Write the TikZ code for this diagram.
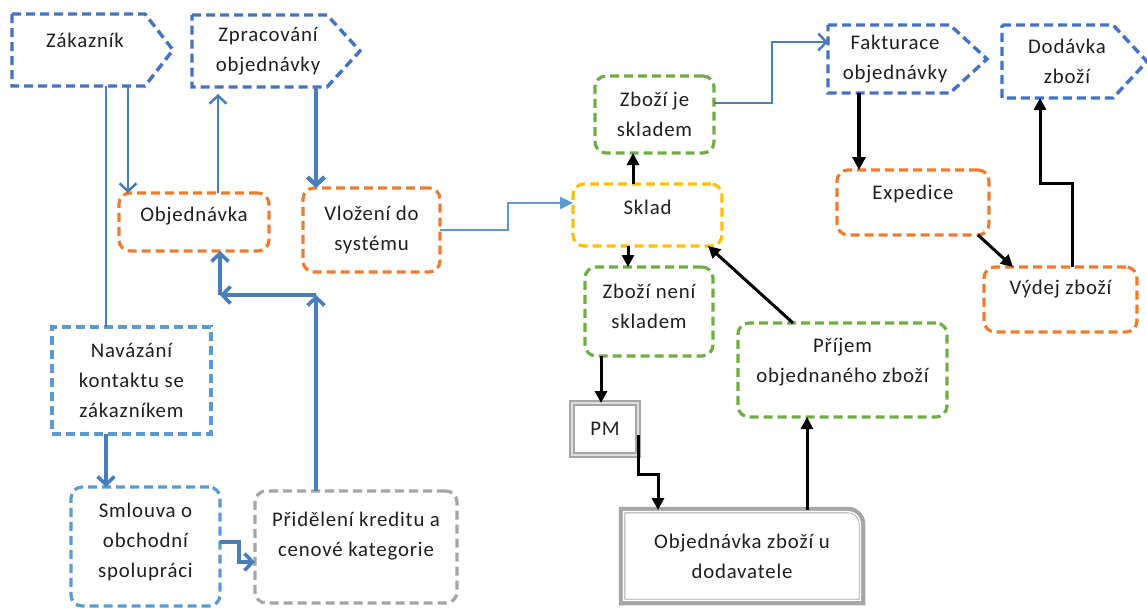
\documentclass[tikz,border=0pt]{standalone}
\usepackage{fontspec}
\setmainfont{Carlito}[LetterSpace=4]
\usetikzlibrary{arrows.meta}
\definecolor{hpblue}{HTML}{4472C4}
\definecolor{ltblue}{HTML}{5B9BD5}
\definecolor{conblue}{HTML}{4A7EBB}
\definecolor{orng}{HTML}{ED7D31}
\definecolor{grn}{HTML}{70AD47}
\definecolor{gold}{HTML}{FFC000}
\definecolor{gry}{HTML}{A5A5A5}
\definecolor{txtc}{HTML}{1F1F1F}
\newcommand\hpoutline[3]{\draw[hpline] (#1.north west) -- ([xshift=-#2]#1.north east) -- ([xshift=#3]#1.east) -- ([xshift=-#2]#1.south east) -- (#1.south west) -- cycle;}
\begin{document}
\begin{tikzpicture}[x=1pt,y=-1pt,
  base/.style={rectangle, inner sep=0pt, outer sep=0pt, align=center, text=txtc, font=\fontsize{20.8pt}{30pt}\selectfont},
  dsh/.style={dash pattern=on 9pt off 5pt, line width=3.2pt},
  rbox/.style={base, draw=#1, dsh, rounded corners=11pt},
  sbox/.style={base, draw=#1, dsh},
  hpbox/.style={base},
  hpline/.style={draw=hpblue, dsh, line width=3.4pt, line join=miter},
  bline/.style={draw=conblue, line width=2.5pt},
  bcon/.style={draw=conblue, line width=2.5pt, -{Straight Barb[length=8pt,width=17pt]}},
  bconmed/.style={draw=conblue, line width=3.6pt, -{Straight Barb[length=8pt,width=17pt]}},
  bconthick/.style={draw=conblue, line width=4.3pt, -{Straight Barb[length=8pt,width=17pt]}},
  lcon/.style={draw=ltblue, line width=2.4pt, -{Triangle[length=13pt,width=12pt]}},
  kcon/.style={draw=black, line width=3pt, -{Triangle[length=12pt,width=12pt]}},
  kconthick/.style={draw=black, line width=4pt, -{Triangle[length=13pt,width=13pt]}},
]
\fill[white] (0,0) rectangle (1147,607);
\useasboundingbox (0,0) rectangle (1147,607);

% home plate shapes
\node[hpbox, minimum width=146pt, minimum height=72pt, text depth=20pt] (zak) at (85,50) {Zákazník};
\hpoutline{zak}{13pt}{15pt}
\node[hpbox, minimum width=152pt, minimum height=72pt] (zpr) at (268,51) {Zpracování\\objednávky};
\hpoutline{zpr}{17pt}{16pt}
\node[hpbox, minimum width=134pt, minimum height=68pt] (fak) at (895,59) {Fakturace\\objednávky};
\hpoutline{fak}{12pt}{25pt}
\node[hpbox, minimum width=130pt, minimum height=73pt] (dod) at (1067,61.5) {Dodávka\\zboží};
\hpoutline{dod}{19pt}{15pt}

% boxes
\node[rbox=orng, minimum width=150pt, minimum height=58pt, text depth=15pt] (obj) at (194,222) {Objednávka};
\node[rbox=orng, minimum width=137pt, minimum height=84pt] (vlo) at (371.5,230) {Vložení do\\systému};
\node[sbox=ltblue, minimum width=159pt, minimum height=107pt] (nav) at (131.5,380.5) {Navázání\\kontaktu se\\zákazníkem};
\node[rbox=ltblue, minimum width=149pt, minimum height=119pt, text depth=12pt] (sml) at (145.5,546.5) {Smlouva o\\obchodní\\spolupráci};
\node[rbox=gry, minimum width=202pt, minimum height=112pt, text depth=25pt] (pri) at (356,547) {Přidělení kreditu a\\cenové kategorie};
\node[rbox=grn, minimum width=119pt, minimum height=77pt] (zje) at (654.5,114.5) {Zboží je\\skladem};
\node[rbox=gold, minimum width=149pt, minimum height=62pt, text depth=16pt] (skl) at (647.5,215) {Sklad};
\node[rbox=grn, minimum width=128pt, minimum height=89pt, text depth=11pt] (zne) at (649,311.5) {Zboží není\\skladem};
\node[rbox=grn, minimum width=209pt, minimum height=94pt, text depth=19pt] (prj) at (842.5,370) {Příjem\\objednaného zboží};
\node[base, draw=gry, line width=2.4pt, double=gry!35, double distance=1.3pt, minimum width=66pt, minimum height=52pt] (pm) at (605,429) {PM};
\node[base, minimum width=240pt, minimum height=92pt] (ozd) at (742,556) {Objednávka zboží u\\dodavatele};
\draw[gry, line width=6.5pt] (ozd.south west) -- (ozd.north west) -- ([xshift=-14pt]ozd.north east) arc[start angle=90, end angle=0, radius=14pt] -- (ozd.south east) -- cycle;
\draw[white, line width=1.4pt] ([shift={(1.6pt,1.6pt)}]ozd.south west) -- ([shift={(1.6pt,-1.6pt)}]ozd.north west) -- ([shift={(-14pt,-1.6pt)}]ozd.north east) arc[start angle=90, end angle=0, radius=12.4pt] -- ([shift={(-1.6pt,1.6pt)}]ozd.south east) -- cycle;
\node[rbox=orng, minimum width=152pt, minimum height=65pt, text depth=20pt] (exp) at (913,202.5) {Expedice};
\node[rbox=orng, minimum width=153pt, minimum height=65pt, text depth=24pt] (vyd) at (1060.5,299.5) {Výdej zboží};

% helper coordinates
\coordinate (k1) at (128,0);
\coordinate (k2) at (106,0);
\coordinate (k3) at (218,0);
\coordinate (k4) at (316,0);
\coordinate (k5) at (508,203);
\coordinate (k6) at (239,542);
\coordinate (k7) at (239,562);
\coordinate (k8) at (0,295);
\coordinate (k9) at (220,295);
\coordinate (k10) at (772,103);
\coordinate (k11) at (772,42);
\coordinate (k12) at (633,0);
\coordinate (k13) at (628,0);
\coordinate (k14) at (793,0);
\coordinate (k15) at (601,0);
\coordinate (k17) at (658,474);
\coordinate (k18) at (807,0);
\coordinate (k19) at (859,0);
\coordinate (k20) at (1072,0);
\coordinate (k21) at (1040,183);

% blue connectors
\draw[bcon] (k1 |- zak.south) -- (k1 |- obj.north);
\draw[bline] (k2 |- zak.south) -- (k2 |- nav.north);
\draw[bcon, shorten >=7pt] (k3 |- obj.north) -- (k3 |- zpr.south);
\draw[bconthick] (k4 |- zpr.south) -- (k4 |- vlo.north);
\draw[lcon] (vlo.east) -| (k5) -- (k5 -| skl.west);
\draw[bconmed] (k2 |- nav.south) -- (k2 |- sml.north);
\draw[bconmed] (k6 -| sml.east) -- (k6) -- (k7) -- (k7 -| pri.west);
\draw[bconmed] (k4 |- pri.north) -- (k4 |- k8);
\draw[bconmed] (k4 |- k8) -- (k9);
\draw[bconmed] (k9) -- (k9 |- obj.south);
\draw[bcon] (k10 -| zje.east) -- (k10) -- (k11) -- (k11 -| fak.west);

% black connectors
\draw[kcon] (k12 |- skl.north) -- (k12 |- zje.south);
\draw[kcon] (k13 |- skl.south) -- (k13 |- zne.north);
\draw[kcon] (k14 |- prj.north) -- ([xshift=-14pt]skl.south east);
\draw[kcon] (k15 |- zne.south) -- (k15 |- pm.north);
\draw[kcon] ([yshift=-6pt]pm.east) |- (k17) -- (k17 |- ozd.north);
\draw[kcon] (k18 |- ozd.north) -- (k18 |- prj.south);
\draw[kconthick] (k19 |- fak.south) -- (k19 |- exp.north);
\draw[kcon] ([xshift=-11pt]exp.south east) -- ([xshift=29pt]vyd.north west);
\draw[kcon] (k20 |- vyd.north) -- (k20 |- k21) -- (k21) -- (k21 |- dod.south);
\end{tikzpicture}
\end{document}
